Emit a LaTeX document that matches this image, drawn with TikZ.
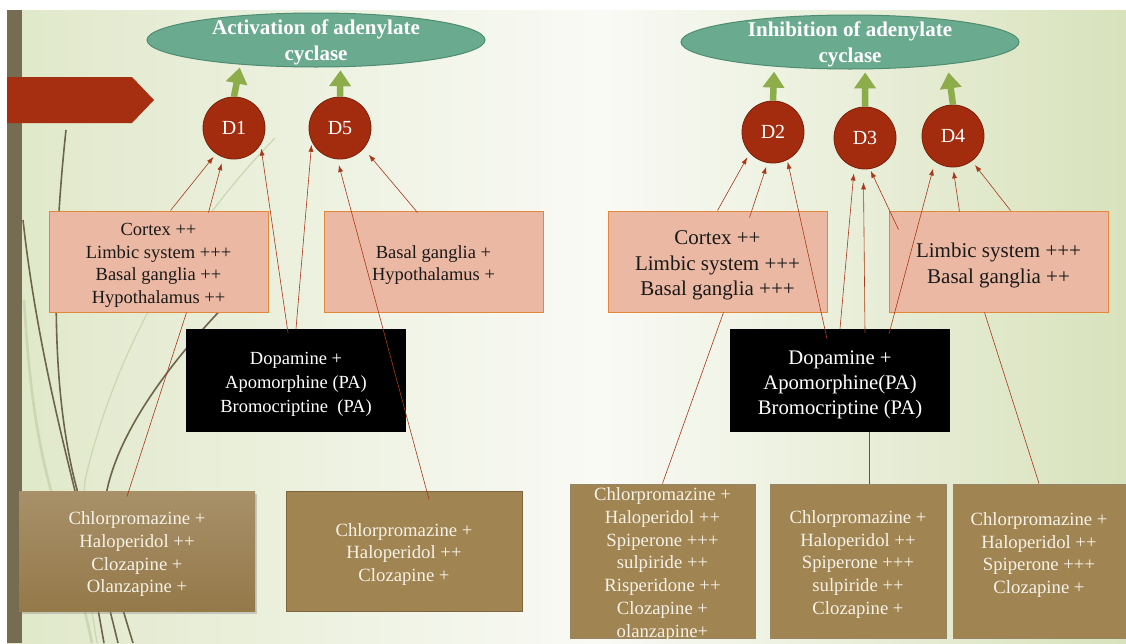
\documentclass[tikz,border=0pt]{standalone}
\usepackage{fontspec}
\setmainfont{Liberation Serif}
\usepackage{tikz}
\usetikzlibrary{arrows.meta,calc,shapes.geometric,shadows}

\definecolor{bgGreen}{HTML}{E0E8C9}
\definecolor{bgGreenR}{HTML}{D8E2BC}
\definecolor{bgPale}{HTML}{F9FAF5}
\definecolor{barBrown}{HTML}{756C52}
\definecolor{bannerRed}{HTML}{A52F10}
\definecolor{tealFill}{HTML}{6AAB8F}
\definecolor{tealLine}{HTML}{4F8C72}
\definecolor{recRed}{HTML}{A32C0F}
\definecolor{recLine}{HTML}{7A200A}
\definecolor{pinkFill}{HTML}{EBB9A3}
\definecolor{pinkLine}{HTML}{E3883A}
\definecolor{mudFill}{HTML}{A08452}
\definecolor{mudLine}{HTML}{7D6741}
\definecolor{mudTop}{HTML}{A89069}
\definecolor{mudBot}{HTML}{947949}
\definecolor{mudText}{HTML}{F7F2E8}
\definecolor{leafGreen}{HTML}{8DAD4B}
\definecolor{linkRed}{HTML}{A8381A}
\definecolor{wispBrown}{HTML}{6E6449}
\definecolor{wispPale}{HTML}{CCD6B2}

% pushes the first line down a little, as the slide sets it
\newcommand\lift{\rule{0pt}{1.06em}}
\newcommand\liftT{\rule{0pt}{0.93em}}

\tikzset{
  effect/.style={draw=tealLine, line width=1pt, fill=tealFill, ellipse, minimum width=338pt, minimum height=54pt, inner xsep=0pt, inner ysep=-9pt, align=center, text=white, font=\fontsize{21}{25.5}\selectfont\bfseries},
  receptor/.style={draw=recLine, line width=0.8pt, fill=recRed, circle, minimum size=62pt, inner sep=0pt, text=white, font=\fontsize{20}{24}\selectfont},
  region/.style={draw=pinkLine, line width=1pt, fill=pinkFill, minimum width=219pt, minimum height=101pt, inner sep=0pt, align=center, text=black!90},
  agonist/.style={fill=black, minimum width=220pt, minimum height=103pt, inner sep=0pt, align=center, text=white},
  blocker/.style={draw=mudLine, line width=1pt, fill=mudFill, inner sep=0pt, align=center, text=mudText, font=\fontsize{18.7}{22.7}\selectfont},
  couple/.style={-{Triangle[length=16pt,width=21pt]}, line width=6.5pt, leafGreen, shorten >=3pt},
  link/.style={-{Latex[length=7pt,width=5pt]}, line width=0.6pt, linkRed},
  bare/.style={line width=0.6pt, linkRed},
  wisp/.style={line width=1.6pt, wispBrown},
  wispL/.style={line width=2.6pt, wispPale}
}

\begin{document}
\begin{tikzpicture}[x=1pt,y=-1pt]
  \useasboundingbox (0,0) rectangle (1126,643);
  % slide background
  \fill[white] (0,0) rectangle (1126,643);
  \fill[left color=bgGreen, right color=bgPale] (7,10) rectangle (600,643);
  \fill[left color=bgPale, right color=bgGreenR] (600,10) rectangle (1126,643);
  \fill[barBrown] (7,10) rectangle (22,643);
  \fill[bannerRed] (7,77) -- (132,77) -- (154,100) -- (132,123) -- (7,123) -- cycle;

  \draw[wispL] (24,300) .. controls (30,400) and (40,460) .. (60,520) .. controls (75,570) and (85,610) .. (92,643);
  \draw[wispL, line width=1.2pt] (275,138) .. controls (200,215) and (120,330) .. (85,480) .. controls (80,540) and (90,600) .. (97,643);
  \draw[wisp] (66,130) .. controls (52,260) and (50,400) .. (80,500) .. controls (100,570) and (110,610) .. (118,643);
  \draw[wisp] (23,220) .. controls (35,330) and (60,430) .. (76,495) .. controls (90,560) and (98,610) .. (104,643);
  \draw[wisp] (240,290) .. controls (170,360) and (120,430) .. (107,490) .. controls (100,540) and (120,600) .. (133,643);

  % adenylate cyclase
  \node[effect] (actL) at (316,40) {\liftT Activation of adenylate\\cyclase};
  \node[effect] (inhR) at (850,42) {\liftT Inhibition of adenylate\\cyclase};

  % receptors
  \node[receptor] (d1) at (234,128) {D1};
  \node[receptor] (d5) at (340,128) {D5};
  \node[receptor] (d2) at (773,132) {D2};
  \node[receptor] (d3) at (865,138) {D3};
  \node[receptor] (d4) at (953,136) {D4};

  \draw[couple] (d1.north) -- (actL.198);
  \draw[couple] (d5.north) -- (actL.312);
  \draw[couple, shorten >=5pt] (d2.north) -- (inhR.198.5);
  \draw[couple] (d3.north) -- (inhR.299);
  \draw[couple, shorten >=8pt] (d4.north) -- (inhR.347.7);

  % brain regions
  \node[region, font=\fontsize{18.5}{22.5}\selectfont] (regA) at (158.5,261.5) {\lift Cortex ++\\Limbic system +++\\Basal ganglia ++\\Hypothalamus ++};
  \node[region, font=\fontsize{18.5}{22.5}\selectfont] (regB) at (433.5,261.5) {\lift Basal ganglia +\\Hypothalamus +};
  \node[region, font=\fontsize{21}{25.5}\selectfont] (regC) at (717.5,261.5) {\lift Cortex ++\\Limbic system +++\\Basal ganglia +++};
  \node[region, font=\fontsize{21}{25.5}\selectfont] (regD) at (998.5,261.5) {\lift Limbic system +++\\Basal ganglia ++};

  % agonists
  \node[agonist, font=\fontsize{18.5}{24}\selectfont] (agoA) at (296,380.5) {\lift Dopamine +\\Apomorphine (PA)\\Bromocriptine\ \ (PA)};
  \node[agonist, font=\fontsize{20.7}{25}\selectfont] (agoB) at (840,380.5) {\lift Dopamine +\\Apomorphine(PA)\\Bromocriptine (PA)};

  % antagonists
  \node[blocker, draw=none, top color=mudTop, bottom color=mudBot, drop shadow={shadow xshift=2pt, shadow yshift=-3pt, opacity=0.35}, minimum width=236pt, minimum height=120pt] (antA) at (137,551) {\lift Chlorpromazine +\\Haloperidol ++\\Clozapine +\\Olanzapine +};
  \node[blocker, minimum width=236pt, minimum height=120pt] (antB) at (404,551) {\lift Chlorpromazine +\\Haloperidol ++\\Clozapine +};
  \node[blocker, draw=mudLine!80, inner ysep=-5pt, minimum width=185pt, minimum height=154pt] (antC) at (662.5,561) {\lift Chlorpromazine +\\Haloperidol ++\\Spiperone +++\\sulpiride ++\\Risperidone ++\\Clozapine +\\olanzapine+};
  \node[blocker, draw=mudLine!80, minimum width=176pt, minimum height=154pt] (antD) at (858,561) {\lift Chlorpromazine +\\Haloperidol ++\\Spiperone +++\\sulpiride ++\\Clozapine +};
  \node[blocker, draw=mudLine!80, minimum width=172pt, minimum height=154pt] (antE) at (1039,561) {\lift Chlorpromazine +\\Haloperidol ++\\Spiperone +++\\Clozapine +\\ \mbox{}};

  % links, left half
  \draw[link, shorten >=4pt] ($(regA.north)+(12,0)$) -- (d1.235);
  \draw[link, shorten >=6pt] ($(regA.north)+(50,2)$) -- (d1.250);
  \draw[link, shorten >=4pt] ($(agoA.north)+(-8,4)$) -- (d1.328);
  \draw[link, shorten >=3pt] (agoA.north) -- (d5.206);
  \draw[link, shorten >=6pt] ($(antB.north)+(25,9)$) -- (d5.265);
  \draw[link, shorten >=8pt] ($(regB.north)+(-16,2)$) -- (d5.319);
  \draw[bare] ($(antA.north)+(-10,6)$) -- ($(regA.south)+(28,0)$);

  % links, right half
  \draw[link, shorten >=5pt] (regC.north) -- (d2.222);
  \draw[link, shorten >=4pt] ($(regC.north)+(32,7)$) -- (d2.260);
  \draw[link, shorten >=2pt] ($(agoB.north)+(-13,10)$) -- (d2.297);
  \draw[link, shorten >=6pt] (agoB.north) -- (d3.250);
  \draw[link, shorten >=13pt] ($(agoB.north)+(25,4)$) -- (d3.267);
  \draw[link, shorten >=2pt] ($(regD.north west)+(10,19)$) -- (d3.279);
  \draw[link, shorten >=7pt] ($(agoB.north)+(49,5)$) -- (d4.235);
  \draw[link, shorten >=4pt] ($(regD.north west)+(71,1)$) -- (d4.270);
  \draw[link, shorten >=5pt] ($(regD.north)+(12,0)$) -- (d4.307);
  \draw[bare] ($(regC.south)+(6,0)$) -- (antC.north);
  \draw[bare] ($(agoB.south)+(29,0)$) -- ($(antD.north)+(11,0)$);
  \draw[bare] ($(regD.south)+(-14,0)$) -- (antE.north);
\end{tikzpicture}
\end{document}
